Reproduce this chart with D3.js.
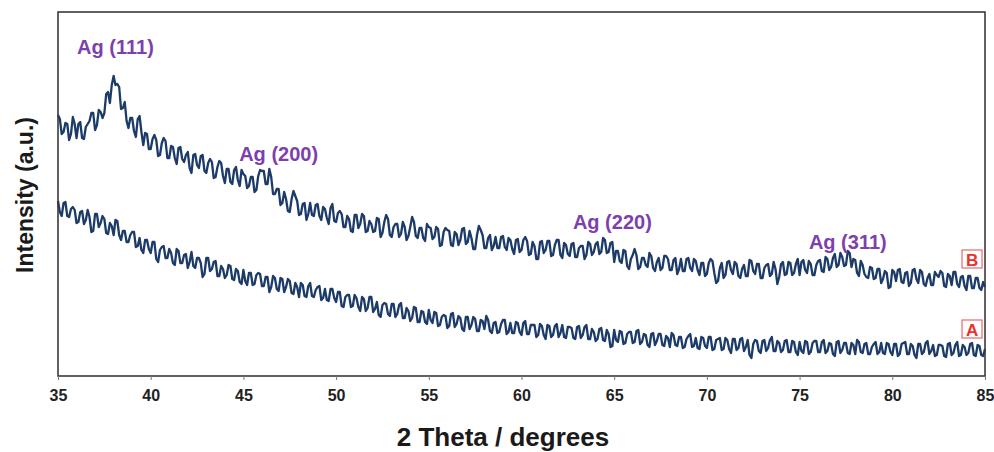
<!DOCTYPE html>
<html>
<head>
<meta charset="utf-8">
<script src="https://cdn.jsdelivr.net/npm/d3@7"></script>
<style>
  html, body { margin: 0; padding: 0; background: #fff; }
  svg { display: block; }
</style>
</head>
<body>
<svg id="chart" width="994" height="452"></svg>
<script>
// XRD scan grid (2θ, degrees): first angle and step
const thetaStart = 35;
const thetaStep = 0.1;

// Pattern B: Ag nanoparticles (counts, arbitrary units), 35.0° → 85.0°
const seriesB = [
  261,257,242,244,253,252,236,242,259,252,238,252,254,238,237,249,252,255,263,263,
  246,251,266,264,258,263,282,284,273,291,300,291,292,289,267,268,274,255,248,258,
  258,245,239,257,260,244,231,243,242,227,227,237,241,236,220,221,233,238,235,218,
  218,230,229,218,212,228,229,217,214,221,224,208,203,221,222,211,208,220,221,205,
  203,213,217,214,198,199,209,215,213,200,193,207,207,194,192,206,209,196,190,206,
  202,200,188,190,199,199,184,186,200,206,205,205,192,192,207,199,182,182,187,187,
  171,173,184,177,165,164,177,185,180,175,161,162,172,173,156,162,173,161,160,171,
  172,160,156,169,167,158,152,168,172,155,154,163,165,162,149,149,160,157,145,144,
  161,161,148,152,162,160,144,145,155,152,144,145,158,157,139,143,154,161,157,141,
  139,149,152,152,139,142,154,149,136,140,149,159,154,140,138,148,148,138,135,152,
  149,148,137,139,149,147,130,131,144,148,146,145,131,130,144,142,131,136,147,148,
  132,134,145,138,127,127,141,150,146,141,128,128,138,141,126,130,139,128,128,139,
  140,129,126,138,136,127,122,136,137,124,126,136,139,135,121,122,134,130,117,117,
  134,135,123,126,135,135,120,121,131,136,136,121,118,133,131,122,120,132,133,119,
  119,128,130,130,117,121,134,132,121,124,132,134,122,124,138,136,123,124,133,134,
  114,125,125,115,113,126,125,110,107,117,121,127,121,107,109,118,118,111,109,123,
  120,108,105,114,118,106,108,120,120,117,106,106,116,118,102,107,117,105,105,117,
  118,108,105,117,115,106,101,113,113,100,102,113,117,115,103,93,95,108,113,98,
  101,114,115,106,102,114,112,100,98,107,111,100,100,116,115,105,102,112,112,98,
  98,108,111,112,100,102,114,107,92,99,112,114,101,102,114,113,101,103,112,117,
  101,114,116,106,103,115,112,101,101,111,115,116,105,104,119,117,106,109,118,122,
  109,111,123,119,110,111,125,123,109,117,116,103,100,115,111,102,99,98,109,108,
  97,98,107,107,93,97,105,103,88,89,106,104,95,106,107,94,93,103,104,90,
  93,106,107,97,93,106,104,92,90,98,102,91,91,104,101,99,105,103,90,89,
  102,100,91,104,104,92,89,99,100,90,86,100,100,88,88,98,98,88,86,94,
  89
];

// Pattern A: reference sample (counts, arbitrary units), 35.0° → 85.0°
const seriesA = [
  175,164,160,173,174,160,159,167,169,166,153,154,164,165,152,156,166,159,144,145,
  162,162,149,153,160,157,143,142,153,150,141,156,155,141,136,145,145,134,134,141,
  144,144,129,130,138,126,123,136,136,127,123,134,134,117,114,126,129,130,118,118,
  127,123,113,111,127,125,113,113,121,122,108,114,124,110,108,118,118,113,99,102,
  118,118,105,107,114,115,100,100,110,107,98,101,111,110,97,96,107,105,94,92,
  106,95,91,103,103,91,92,101,103,102,90,90,99,99,84,89,100,98,87,85,
  98,97,84,89,97,95,83,82,93,89,79,93,91,80,79,90,93,80,79,86,
  89,90,76,78,87,76,75,87,87,78,74,84,84,70,69,79,81,81,69,70,
  81,78,69,65,79,77,65,68,79,79,64,67,74,61,59,71,73,72,62,60,
  72,72,59,62,71,73,58,58,68,65,55,58,69,68,54,54,65,64,54,52,
  66,56,53,64,63,50,51,59,61,60,48,50,62,63,49,52,60,58,47,45,
  59,59,47,51,59,57,45,45,56,55,47,60,56,45,43,53,54,43,44,52,
  56,56,42,44,53,43,43,54,53,44,41,53,55,42,42,51,51,51,39,41,
  52,50,41,37,51,50,39,41,50,52,39,43,51,39,38,49,49,48,38,37,
  49,50,38,41,49,51,37,37,47,44,35,37,47,48,36,35,46,42,29,30,
  46,36,34,45,44,32,33,42,44,44,33,34,45,46,32,34,42,41,31,29,
  42,43,31,35,42,42,31,30,40,38,29,43,41,31,30,39,39,28,29,37,
  40,42,29,30,38,28,27,39,38,30,28,39,39,26,27,36,37,38,26,27,
  38,36,27,23,37,37,26,28,37,38,25,29,36,21,18,32,36,35,25,23,
  35,36,25,28,36,39,25,25,35,33,24,26,35,36,24,24,35,34,24,21,
  34,25,23,35,34,22,24,33,35,35,24,24,34,36,23,25,33,32,22,20,
  34,35,23,26,33,33,23,22,33,31,22,36,34,24,23,32,33,22,22,29,
  32,34,22,24,33,23,22,33,32,24,21,32,32,20,22,32,33,34,22,22,
  32,30,21,18,32,32,22,24,33,35,22,25,31,20,21,31,31,30,20,19,
  32,33,21,23,31,34,20,21,31,29,21,23,32,33,21,20,31,30,21,20,
  27
];

// Axis ticks
const xTicks = [35, 40, 45, 50, 55, 60, 65, 70, 75, 80, 85];

// Silver reflections: label text, 2θ of label and intensity level of label
const peakNames = ["Ag (111)", "Ag (200)", "Ag (220)", "Ag (311)"];
const peakTheta = [38.1, 46.9, 64.9, 77.6];
const peakLevel = [322, 215, 147, 127];

// Curve tags and the level they sit at
const curveTags = ["B", "A"];
const curveTagLevel = [117, 47];

const svg = d3.select("#chart");
const m = { left: 58, right: 985, top: 12, bottom: 376 };

const x = d3.scaleLinear().domain([35, 85]).range([m.left, m.right]);
const y = d3.scaleLinear().domain([0, 364]).range([m.bottom, m.top]);

const toPoints = arr => arr.map((v, i) => [thetaStart + i * thetaStep, v]);

const line = d3.line()
  .x(d => x(d[0]))
  .y(d => y(d[1]));

const traceColor = "#1c3b69";

svg.append("g")
  .selectAll("path")
  .data([seriesA, seriesB])
  .join("path")
  .attr("d", d => line(toPoints(d)))
  .attr("fill", "none")
  .attr("stroke", traceColor)
  .attr("stroke-width", 2.3)
  .attr("stroke-linejoin", "round");

// Plot frame
svg.append("rect")
  .attr("x", m.left)
  .attr("y", m.top)
  .attr("width", m.right - m.left)
  .attr("height", m.bottom - m.top)
  .attr("fill", "none")
  .attr("stroke", "#3a3a3a")
  .attr("stroke-width", 1.6);

// Bottom axis
const xAxis = d3.axisBottom(x)
  .tickValues(xTicks)
  .tickSize(4)
  .tickPadding(10)
  .tickFormat(d3.format("d"));

const gx = svg.append("g")
  .attr("transform", `translate(0,${m.bottom})`)
  .call(xAxis);
gx.select(".domain").remove();
gx.selectAll(".tick line").attr("stroke", "#777").attr("stroke-width", 1);
gx.selectAll(".tick text")
  .attr("font-family", "Liberation Sans, Arial, sans-serif")
  .attr("font-size", 16)
  .attr("font-weight", "bold")
  .attr("fill", "#222");

// Axis titles
svg.append("text")
  .attr("x", 503)
  .attr("y", 446)
  .attr("text-anchor", "middle")
  .attr("font-family", "Liberation Sans, Arial, sans-serif")
  .attr("font-size", 26)
  .attr("font-weight", "bold")
  .attr("fill", "#1a1a1a")
  .text("2 Theta / degrees");

svg.append("text")
  .attr("transform", "translate(33,195) rotate(-90)")
  .attr("text-anchor", "middle")
  .attr("font-family", "Liberation Sans, Arial, sans-serif")
  .attr("font-size", 23)
  .attr("font-weight", "bold")
  .attr("fill", "#1a1a1a")
  .text("Intensity (a.u.)");

// Reflection labels
svg.append("g")
  .selectAll("text")
  .data(peakNames)
  .join("text")
  .attr("x", (d, i) => x(peakTheta[i]))
  .attr("y", (d, i) => y(peakLevel[i]))
  .attr("text-anchor", "middle")
  .attr("font-family", "Liberation Sans, Arial, sans-serif")
  .attr("font-size", 20)
  .attr("font-weight", "bold")
  .attr("fill", "#7e3fae")
  .text(d => d);

// Curve tags in small red boxes
const tagX = x(84.3);
const tags = svg.append("g")
  .selectAll("g")
  .data(curveTags)
  .join("g")
  .attr("transform", (d, i) => `translate(${tagX},${y(curveTagLevel[i])})`);

tags.append("rect")
  .attr("x", -10)
  .attr("y", -9)
  .attr("width", 20)
  .attr("height", 18)
  .attr("fill", "#fff")
  .attr("stroke", "#e8696a")
  .attr("stroke-width", 1.2);

tags.append("text")
  .attr("y", 6.5)
  .attr("text-anchor", "middle")
  .attr("font-family", "Liberation Sans, Arial, sans-serif")
  .attr("font-size", 17)
  .attr("font-weight", "bold")
  .attr("fill", "#e8322d")
  .text(d => d);
</script>
</body>
</html>
